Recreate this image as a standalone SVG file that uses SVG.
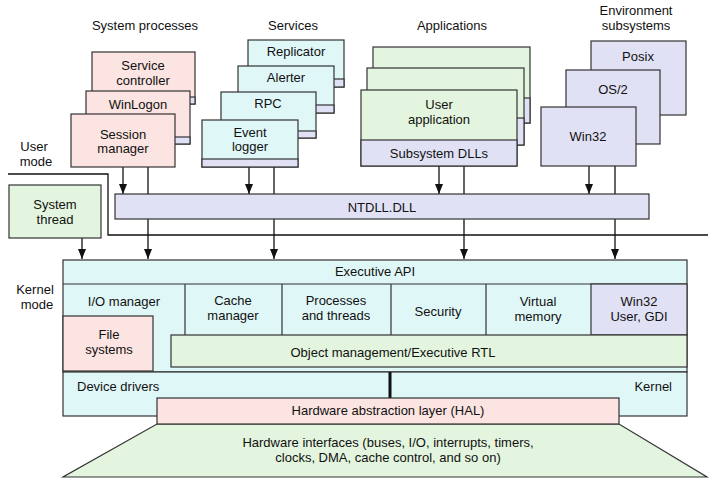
<svg xmlns="http://www.w3.org/2000/svg" width="717" height="486" viewBox="0 0 717 486">
<defs>
<style>
text{font-family:"Liberation Sans",Arial,sans-serif;font-size:13px;fill:#111;text-anchor:middle}
.b{stroke:#333;stroke-width:1.2}
.pk{fill:#fbe4e1}
.cy{fill:#e0f7f7}
.gr{fill:#e3f5de}
.lv{fill:#e1e1f5}
.ln{stroke:#111;stroke-width:1.3;fill:none}
</style>
<marker id="ah" markerWidth="8" markerHeight="10" refX="4" refY="10" orient="auto" markerUnits="userSpaceOnUse" viewBox="0 0 8 10">
<path d="M0,0 L8,0 L4,10 Z" fill="#111" transform="rotate(-90 4 5)"/>
</marker>
<marker id="a" viewBox="0 0 10 8" refX="10" refY="4" markerWidth="10" markerHeight="8" orient="auto" markerUnits="userSpaceOnUse">
<path d="M0,0 L10,4 L0,8 Z" fill="#111"/>
</marker>
</defs>
<rect width="717" height="486" fill="#fff"/>

<g id="titles">
<text x="145" y="30">System processes</text>
<text x="293" y="30">Services</text>
<text x="452" y="30">Applications</text>
<text x="636" y="15">Environment</text>
<text x="636" y="30">subsystems</text>
<text x="34" y="151">User</text>
<text x="36" y="166">mode</text>
<text x="35" y="294">Kernel</text>
<text x="37" y="309">mode</text>
</g>

<g id="boundary">
<path class="ln" d="M8,174 H108 V235 H708" stroke-width="1"/>
</g>

<g id="connectors">
<path class="ln" d="M123,167 V194" marker-end="url(#a)"/>
<path class="ln" d="M148,167 V259" marker-end="url(#a)"/>
<path class="ln" d="M249,167 V194" marker-end="url(#a)"/>
<path class="ln" d="M274,167 V259" marker-end="url(#a)"/>
<path class="ln" d="M439,166 V194" marker-end="url(#a)"/>
<path class="ln" d="M464,166 V259" marker-end="url(#a)"/>
<path class="ln" d="M589,166 V194" marker-end="url(#a)"/>
<path class="ln" d="M615,166 V259" marker-end="url(#a)"/>
<path class="ln" d="M82,238 V259" marker-end="url(#a)"/>
</g>

<g id="service-controller">
<rect class="b pk" x="92" y="52" width="103" height="52"/>
<rect class="b lv" x="92" y="97" width="103" height="7"/>
<text x="143" y="70">Service</text>
<text x="143" y="85">controller</text>
</g>
<g id="winlogon">
<rect class="b pk" x="86" y="91" width="104" height="53"/>
<rect class="b lv" x="86" y="137" width="104" height="7"/>
<text x="138" y="109">WinLogon</text>
</g>
<g id="session-manager">
<rect class="b pk" x="71" y="114" width="104" height="53"/>
<text x="123" y="139">Session</text>
<text x="123" y="153">manager</text>
</g>

<g id="replicator">
<rect class="b cy" x="248" y="40" width="96" height="47"/>
<rect class="b lv" x="248" y="79" width="96" height="8"/>
<text x="296" y="56">Replicator</text>
</g>
<g id="alerter">
<rect class="b cy" x="238" y="66" width="96" height="47"/>
<rect class="b lv" x="238" y="105" width="96" height="8"/>
<text x="286" y="82">Alerter</text>
</g>
<g id="rpc">
<rect class="b cy" x="221" y="92" width="95" height="46"/>
<rect class="b lv" x="221" y="131" width="95" height="7"/>
<text x="268" y="108">RPC</text>
</g>
<g id="event-logger">
<rect class="b cy" x="202" y="120" width="96" height="47"/>
<rect class="b lv" x="202" y="159" width="96" height="8"/>
<text x="250" y="137">Event</text>
<text x="250" y="151">logger</text>
</g>

<g id="app-3">
<rect class="b gr" x="373" y="47" width="157" height="76"/>
<rect class="b lv" x="373" y="98" width="157" height="25"/>
</g>
<g id="app-2">
<rect class="b gr" x="367" y="68" width="157" height="77"/>
<rect class="b lv" x="367" y="118" width="157" height="27"/>
</g>
<g id="user-application">
<rect class="b gr" x="361" y="90" width="156" height="76"/>
<rect class="b lv" x="361" y="140" width="156" height="26"/>
<text x="439" y="109">User</text>
<text x="439" y="124">application</text>
<text x="439" y="158">Subsystem DLLs</text>
</g>

<g id="posix">
<rect class="b lv" x="591" y="41" width="95" height="74"/>
<text x="638" y="61">Posix</text>
</g>
<g id="os2">
<rect class="b lv" x="566" y="70" width="94" height="74"/>
<text x="613" y="94">OS/2</text>
</g>
<g id="win32">
<rect class="b lv" x="541" y="107" width="95" height="59"/>
<text x="588" y="141">Win32</text>
</g>

<g id="ntdll">
<rect class="b lv" x="115" y="194" width="534" height="25"/>
<text x="382" y="212">NTDLL.DLL</text>
</g>

<g id="system-thread">
<rect class="b gr" x="9" y="185" width="92" height="53"/>
<text x="55" y="209">System</text>
<text x="55" y="224">thread</text>
</g>

<g id="executive">
<rect class="b cy" x="63" y="260" width="624" height="112"/>
<path class="b" d="M63,284 H687 M185,284 V335 M282,284 V335 M391,284 V335 M486,284 V335" fill="none"/>
<text x="375" y="276">Executive API</text>
</g>
<g id="win32-gdi">
<rect class="b lv" x="591" y="284" width="96" height="51"/>
<text x="639" y="306">Win32</text>
<text x="639" y="321">User, GDI</text>
</g>
<g id="io-manager"><text x="124" y="306">I/O manager</text></g>
<g id="cache-manager"><text x="233" y="305">Cache</text><text x="233" y="320">manager</text></g>
<g id="processes"><text x="336" y="305">Processes</text><text x="336" y="320">and threads</text></g>
<g id="security"><text x="438" y="316">Security</text></g>
<g id="virtual-memory"><text x="538" y="306">Virtual</text><text x="538" y="321">memory</text></g>
<g id="object-management">
<rect class="b gr" x="171" y="335" width="516" height="32"/>
<text x="393" y="357">Object management/Executive RTL</text>
</g>
<g id="file-systems">
<rect class="b pk" x="63" y="316" width="90" height="55"/>
<text x="109" y="339">File</text>
<text x="109" y="354">systems</text>
</g>

<g id="device-drivers-kernel">
<rect class="b cy" x="63" y="372" width="624" height="44"/>
<path d="M390,372 V398" stroke="#111" stroke-width="3"/>
<text x="77" y="391" style="text-anchor:start">Device drivers</text>
<text x="672" y="391" style="text-anchor:end">Kernel</text>
</g>

<g id="hardware-interfaces">
<polygon class="b gr" points="157,424 619,424 707,477 63,477"/>
<text x="388" y="447">Hardware interfaces (buses, I/O, interrupts, timers,</text>
<text x="388" y="462">clocks, DMA, cache control, and so on)</text>
</g>
<g id="hal">
<rect class="b pk" x="157" y="398" width="462" height="26"/>
<text x="388" y="415">Hardware abstraction layer (HAL)</text>
</g>
</svg>
